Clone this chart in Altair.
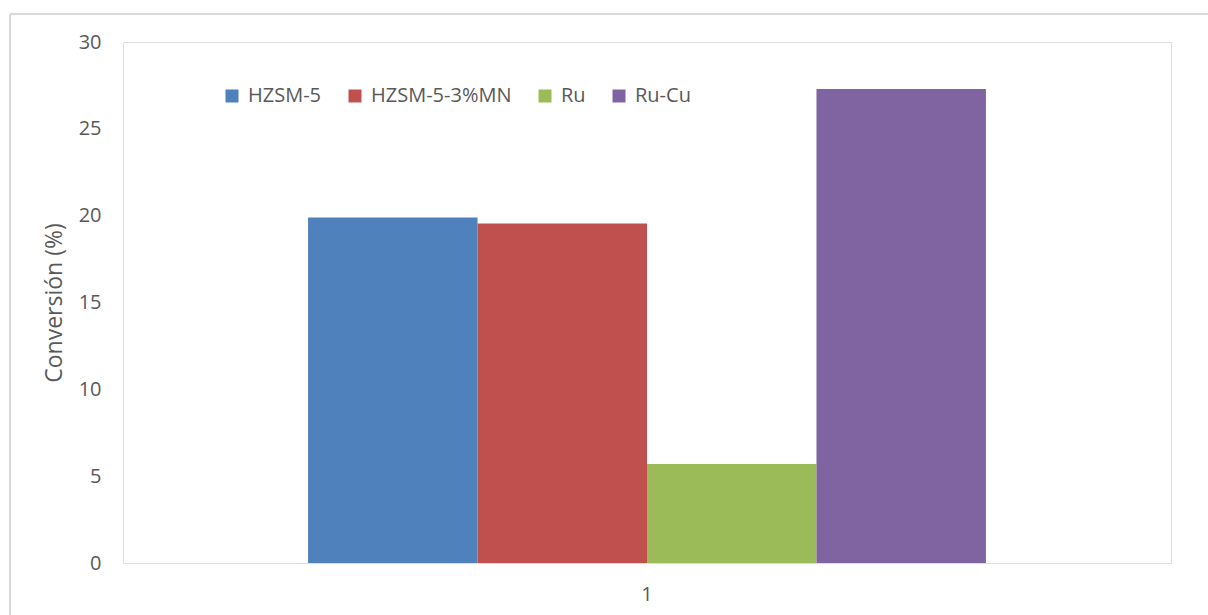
import altair as alt
import pandas as pd

# Conversion by catalyst, single experiment group "1"
series = ["HZSM-5", "HZSM-5-3%MN", "Ru", "Ru-Cu"]
values = [19.9, 19.55, 5.7, 27.3]
group = ["1", "1", "1", "1"]
colors = ["#4F81BD", "#C0504D", "#9BBB59", "#8064A2"]

df = pd.DataFrame({"grupo": group, "catalizador": series, "conversion": values})

FONT = "Open Sans"
GRAY = "#595959"
FRAME = "#D9D9D9"

bars = alt.Chart(df).mark_bar(strokeWidth=0).encode(
    x=alt.X(
        "grupo:N",
        scale=alt.Scale(paddingInner=0, paddingOuter=0.273),
        axis=alt.Axis(
            title=None, labelAngle=0, ticks=False, tickSize=0, domain=False,
            labelPadding=21, labelFontSize=20, labelColor=GRAY, labelFont=FONT,
        ),
    ),
    xOffset=alt.XOffset("catalizador:N", sort=series,
                        scale=alt.Scale(paddingInner=0, paddingOuter=0)),
    y=alt.Y(
        "conversion:Q",
        scale=alt.Scale(domain=[0, 30], nice=False),
        axis=alt.Axis(
            title="Conversión (%)", values=[0, 5, 10, 15, 20, 25, 30],
            grid=False, ticks=False, tickSize=0, domain=False,
            labelPadding=22, labelFontSize=20, labelColor=GRAY, labelFont=FONT,
            titleFontSize=23, titleColor=GRAY, titleFont=FONT,
            titleFontWeight="normal", titlePadding=12,
        ),
    ),
    color=alt.Color(
        "catalizador:N",
        sort=series,
        scale=alt.Scale(domain=series, range=colors),
        legend=alt.Legend(
            title=None, orient="none", direction="horizontal",
            legendX=99, legendY=44, columns=4, columnPadding=23,
            symbolType="square", symbolSize=169, symbolStrokeWidth=0,
            symbolOpacity=1, labelOffset=6,
            labelFontSize=20, labelColor=GRAY, labelFont=FONT, padding=0,
        ),
    ),
)

# Outer chart frame (left and top edges)
frame_df = pd.DataFrame({"k": [0]})
frame_left = alt.Chart(frame_df).mark_rule(color=FRAME, strokeWidth=2).encode(
    x=alt.value(-113), y=alt.value(-28), y2=alt.value(600)
)
frame_top = alt.Chart(frame_df).mark_rule(color=FRAME, strokeWidth=2).encode(
    x=alt.value(-113), x2=alt.value(1100), y=alt.value(-28)
)

chart = alt.layer(bars, frame_left, frame_top).properties(
    width=1048,
    height=521,
    autosize=alt.AutoSizeParams(type="none"),
    padding={"left": 123, "top": 42, "right": 37, "bottom": 52},
).configure_view(
    stroke=FRAME, strokeWidth=2.5
).configure(background="white")

chart.save("out.html", embed_options={"renderer": "svg", "actions": False})
